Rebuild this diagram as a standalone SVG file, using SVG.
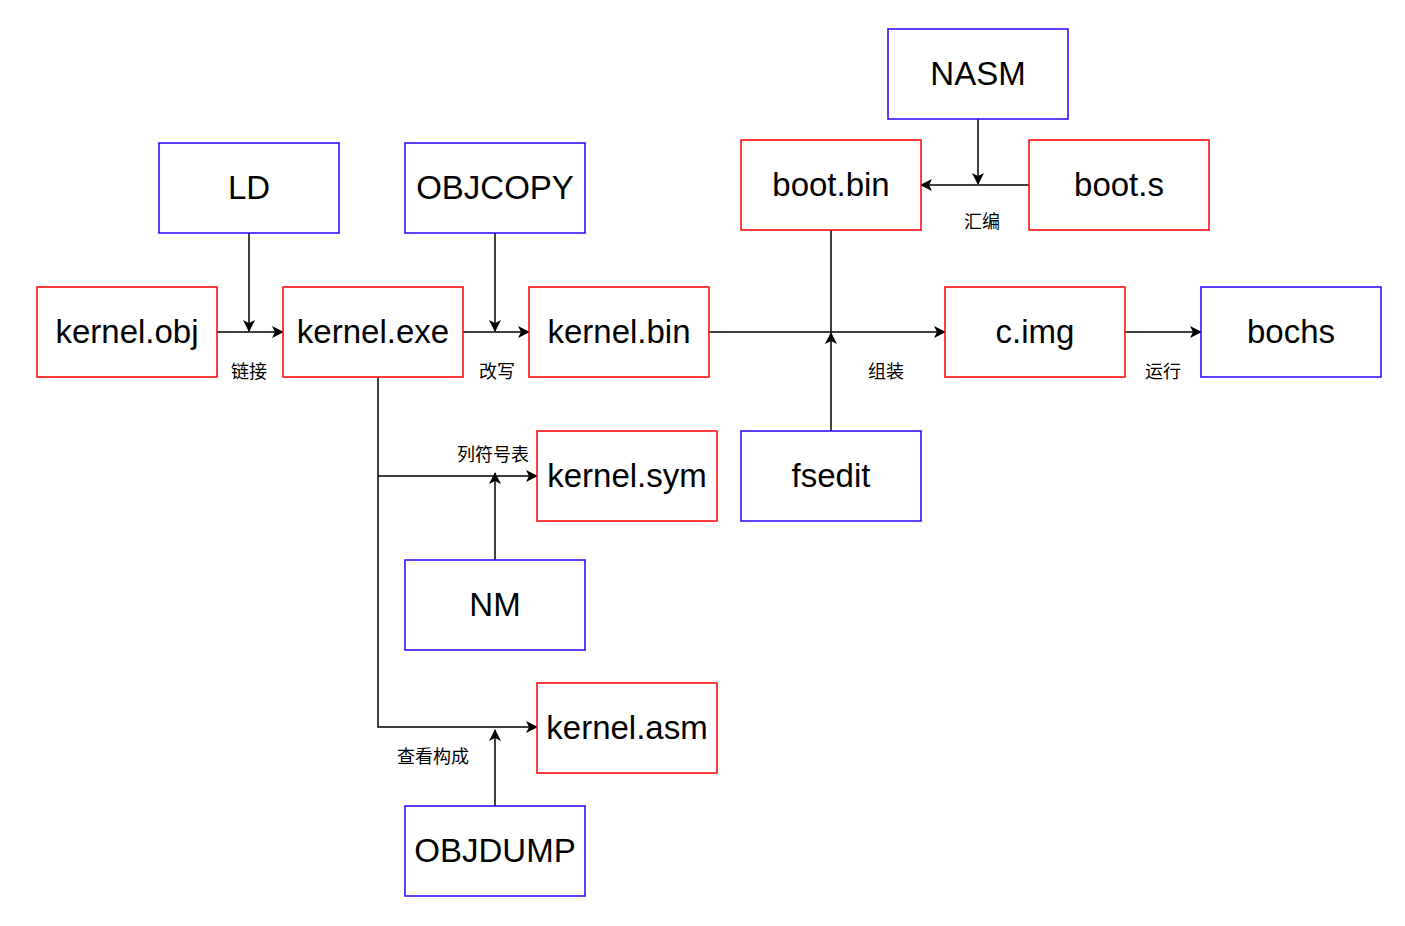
<svg xmlns="http://www.w3.org/2000/svg" width="1405" height="926" viewBox="0 0 1405 926">
<style>
.r{fill:#fff;stroke:#ff0000;stroke-width:1.5}
.b{fill:#fff;stroke:#2a00ff;stroke-width:1.5}
.t{font-family:"Liberation Sans","Noto Sans CJK SC",sans-serif;font-size:33px;fill:#000;text-anchor:middle;dominant-baseline:central}
.l{font-family:"Liberation Sans","Noto Sans CJK SC",sans-serif;font-size:18px;fill:#000;text-anchor:middle;dominant-baseline:central}
.e{fill:none;stroke:#000;stroke-width:1.5}
</style>
<defs>
<marker id="a" viewBox="0 0 12 12" refX="11" refY="6" markerWidth="12" markerHeight="12" markerUnits="userSpaceOnUse" orient="auto">
<path d="M0,0 L12,6 L0,12 L3,6 Z" fill="#000"/>
</marker>
</defs>
<rect width="1405" height="926" fill="#fff"/>
<g id="connectors">
<path class="e" d="M217,332 H283" marker-end="url(#a)"/>
<path class="e" d="M249,233 V331" marker-end="url(#a)"/>
<path class="e" d="M463,332 H529" marker-end="url(#a)"/>
<path class="e" d="M495,233 V331" marker-end="url(#a)"/>
<path class="e" d="M709,332 H945" marker-end="url(#a)"/>
<path class="e" d="M831,230 V332"/>
<path class="e" d="M831,431 V333" marker-end="url(#a)"/>
<path class="e" d="M978,119 V184" marker-end="url(#a)"/>
<path class="e" d="M1029,185 H921" marker-end="url(#a)"/>
<path class="e" d="M1125,332 H1201" marker-end="url(#a)"/>
<path class="e" d="M378,377 V476 H537" marker-end="url(#a)"/>
<path class="e" d="M378,476 V727 H537" marker-end="url(#a)"/>
<path class="e" d="M495,560 V473" marker-end="url(#a)"/>
<path class="e" d="M495,806 V730" marker-end="url(#a)"/>
<text class="l" x="249" y="372">链接</text>
<text class="l" x="497" y="372">改写</text>
<text class="l" x="982" y="222">汇编</text>
<text class="l" x="886" y="372">组装</text>
<text class="l" x="1163" y="372">运行</text>
<text class="l" x="493" y="455">列符号表</text>
<text class="l" x="433" y="757">查看构成</text>
</g>
<g id="kernel_obj"><rect class="r" x="37" y="287" width="180" height="90"/><text class="t" x="127" y="331">kernel.obj</text></g>
<g id="kernel_exe"><rect class="r" x="283" y="287" width="180" height="90"/><text class="t" x="373" y="331">kernel.exe</text></g>
<g id="kernel_bin"><rect class="r" x="529" y="287" width="180" height="90"/><text class="t" x="619" y="331">kernel.bin</text></g>
<g id="LD"><rect class="b" x="159" y="143" width="180" height="90"/><text class="t" x="249" y="187">LD</text></g>
<g id="OBJCOPY"><rect class="b" x="405" y="143" width="180" height="90"/><text class="t" x="495" y="187">OBJCOPY</text></g>
<g id="NASM"><rect class="b" x="888" y="29" width="180" height="90"/><text class="t" x="978" y="73">NASM</text></g>
<g id="boot_bin"><rect class="r" x="741" y="140" width="180" height="90"/><text class="t" x="831" y="184">boot.bin</text></g>
<g id="boot_s"><rect class="r" x="1029" y="140" width="180" height="90"/><text class="t" x="1119" y="184">boot.s</text></g>
<g id="c_img"><rect class="r" x="945" y="287" width="180" height="90"/><text class="t" x="1035" y="331">c.img</text></g>
<g id="bochs"><rect class="b" x="1201" y="287" width="180" height="90"/><text class="t" x="1291" y="331">bochs</text></g>
<g id="kernel_sym"><rect class="r" x="537" y="431" width="180" height="90"/><text class="t" x="627" y="475">kernel.sym</text></g>
<g id="fsedit"><rect class="b" x="741" y="431" width="180" height="90"/><text class="t" x="831" y="475">fsedit</text></g>
<g id="NM"><rect class="b" x="405" y="560" width="180" height="90"/><text class="t" x="495" y="604">NM</text></g>
<g id="kernel_asm"><rect class="r" x="537" y="683" width="180" height="90"/><text class="t" x="627" y="727">kernel.asm</text></g>
<g id="OBJDUMP"><rect class="b" x="405" y="806" width="180" height="90"/><text class="t" x="495" y="850">OBJDUMP</text></g>
</svg>
